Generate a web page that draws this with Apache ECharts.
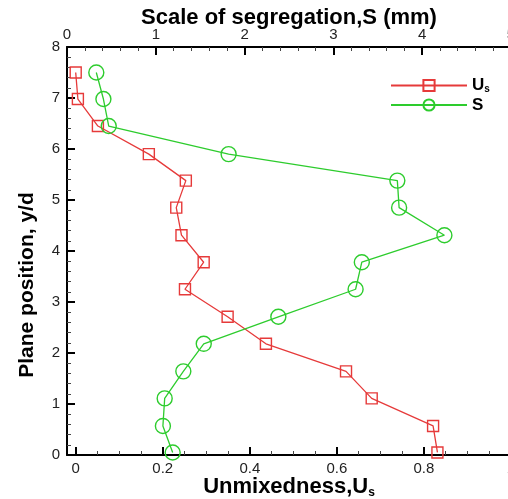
<!DOCTYPE html>
<html>
<head>
<meta charset="utf-8">
<script src="https://cdn.jsdelivr.net/npm/echarts@6/dist/echarts.min.js"></script>
<style>
  html, body { margin: 0; padding: 0; background: #fff; }
  #chart { width: 508px; height: 499px; }
</style>
</head>
<body>
<div id="chart"></div>
<script>
// Plane positions (y/d) shared by both profiles
const planePos = [7.50, 6.98, 6.45, 5.90, 5.38, 4.85, 4.31, 3.78, 3.25, 2.71, 2.18, 1.64, 1.11, 0.57, 0.05];
// Unmixedness U_s (bottom axis)
const unmixedness = [0.000, 0.005, 0.051, 0.168, 0.253, 0.231, 0.243, 0.294, 0.251, 0.349, 0.437, 0.621, 0.680, 0.821, 0.831];
// Scale of segregation S in mm (top axis)
const segregation = [0.33, 0.41, 0.47, 1.82, 3.72, 3.74, 4.25, 3.32, 3.25, 2.38, 1.54, 1.31, 1.10, 1.08, 1.19];

// Bottom axis tick positions
const unmixMajor = [0, 0.2, 0.4, 0.6, 0.8, 1.0];
const unmixMinor = [0.05, 0.1, 0.15, 0.25, 0.3, 0.35, 0.45, 0.5, 0.55, 0.65, 0.7, 0.75, 0.85, 0.9, 0.95];

const RED = '#e63a3a';
const GREEN = '#2dcc2d';
const FONT = '"Liberation Sans", Arial, sans-serif';

const chart = echarts.init(document.getElementById('chart'));

const tickLabel = { fontFamily: FONT, fontSize: 15, color: '#222' };
const axisLine = { show: true, onZero: false, lineStyle: { color: '#000', width: 2 } };
const majorTick = { show: true, inside: true, length: 8, lineStyle: { color: '#000', width: 2 } };
const minorTickStyle = { color: '#444', width: 1 };
const nameStyle = {
  fontFamily: FONT, fontSize: 22, fontWeight: 'bold', color: '#000',
  rich: {
    b: { fontFamily: FONT, fontSize: 22, fontWeight: 'bold', color: '#000' },
    s: { fontFamily: FONT, fontSize: 12, fontWeight: 'bold', color: '#000', verticalAlign: 'bottom', padding: [12, 0, 0, 0] }
  }
};

chart.setOption({
  animation: false,
  grid: { left: 67, top: 47, right: -3, bottom: 44, outerBoundsMode: 'none', containLabel: false },
  legend: {
    orient: 'vertical',
    left: 385,
    top: 72,
    itemWidth: 76,
    itemHeight: 14,
    itemGap: 2,
    textStyle: {
      fontFamily: FONT, fontSize: 17, fontWeight: 'bold', color: '#000',
      rich: {
        b: { fontFamily: FONT, fontSize: 17, fontWeight: 'bold', color: '#000' },
        s: { fontFamily: FONT, fontSize: 10, fontWeight: 'bold', color: '#000', verticalAlign: 'bottom', padding: [8, 0, 0, 0] }
      }
    },
    formatter: function (name) {
      return name === 'Us' ? '{b|U}{s|s}' : '{b|' + name + '}';
    },
    data: ['Us', 'S']
  },
  graphic: [
    {
      type: 'text',
      x: 27,
      y: 285,
      rotation: Math.PI / 2,
      style: {
        text: 'Plane position, y/d',
        fontFamily: FONT, fontSize: 21, fontWeight: 'bold', fill: '#000',
        align: 'center', verticalAlign: 'middle'
      }
    }
  ],
  xAxis: [
    {
      type: 'value',
      position: 'bottom',
      min: -0.02,
      max: 1.0,
      name: '{b|Unmixedness,U}{s|s}',
      nameLocation: 'middle',
      nameGap: 20,
      nameMoveOverlap: false,
      nameTextStyle: nameStyle,
      axisLine: axisLine,
      axisTick: { ...majorTick, customValues: unmixMajor },
      axisLabel: { show: true, margin: 6, customValues: unmixMajor, ...tickLabel,
        formatter: v => String(Math.round(v * 10) / 10) },
      splitLine: { show: false }
    },
    {
      type: 'value',
      position: 'top',
      min: 0,
      max: 5,
      interval: 1,
      name: 'Scale of segregation,S (mm)',
      nameLocation: 'middle',
      nameGap: 18,
      nameMoveOverlap: false,
      nameTextStyle: nameStyle,
      axisLine: axisLine,
      axisTick: majorTick,
      minorTick: { show: true, splitNumber: 5, length: 4, lineStyle: minorTickStyle },
      axisLabel: { show: true, margin: 5, ...tickLabel },
      splitLine: { show: false }
    },
    {
      // minor ticks of the unmixedness axis
      type: 'value',
      position: 'bottom',
      min: -0.02,
      max: 1.0,
      axisLine: { show: false, onZero: false },
      axisTick: { show: true, inside: true, length: 4, customValues: unmixMinor, lineStyle: minorTickStyle },
      axisLabel: { show: false },
      splitLine: { show: false }
    }
  ],
  yAxis: {
    type: 'value',
    min: 0,
    max: 8,
    interval: 1,
    axisLine: axisLine,
    axisTick: majorTick,
    minorTick: { show: true, splitNumber: 5, length: 4, lineStyle: minorTickStyle },
    axisLabel: { show: true, margin: 7, ...tickLabel },
    splitLine: { show: false }
  },
  series: [
    {
      name: 'Us',
      type: 'line',
      xAxisIndex: 0,
      data: unmixedness.map((u, i) => [u, planePos[i]]),
      symbol: 'rect',
      symbolSize: 11,
      clip: false,
      lineStyle: { color: RED, width: 1.3 },
      itemStyle: { color: 'rgba(255,255,255,0)', borderColor: RED, borderWidth: 1.4 }
    },
    {
      name: 'S',
      type: 'line',
      xAxisIndex: 1,
      data: segregation.map((s, i) => [s, planePos[i]]),
      symbol: 'circle',
      symbolSize: 15,
      clip: false,
      lineStyle: { color: GREEN, width: 1.3 },
      itemStyle: { color: 'rgba(255,255,255,0)', borderColor: GREEN, borderWidth: 1.4 }
    }
  ]
});
</script>
</body>
</html>
